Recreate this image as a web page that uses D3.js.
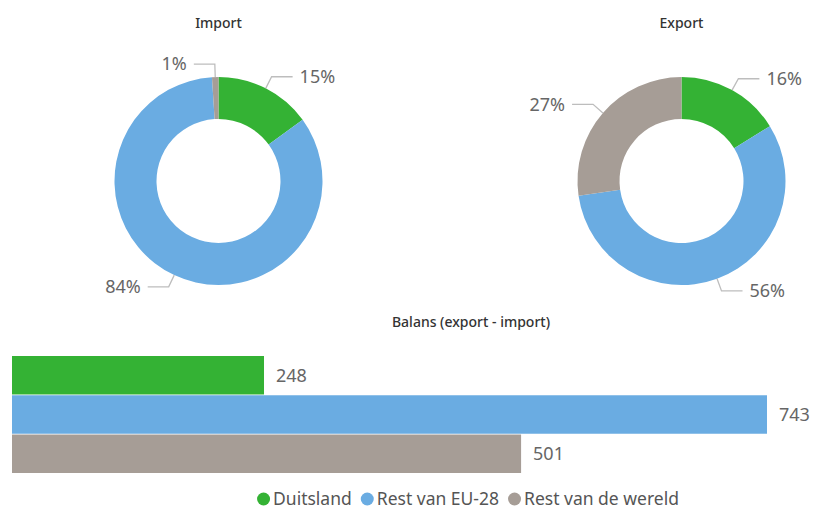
<!DOCTYPE html>
<html>
<head>
<meta charset="utf-8">
<script src="https://cdn.jsdelivr.net/npm/d3@7"></script>
<style>
  body { margin: 0; background: #fff; }
  svg { display: block; font-family: "Noto Sans", "Open Sans", sans-serif; }
</style>
</head>
<body>
<svg id="chart" width="813" height="513"></svg>
<script>
// categories and values
var categories = ['Duitsland', 'Rest van EU-28', 'Rest van de wereld'];
var colors = ['#34b234', '#6aace2', '#a69d96'];
var import_pct = [15, 84, 1];
var export_pct = [16, 56, 27];
var balans = [248, 743, 501];

var svg = d3.select('#chart');
var color = d3.scaleOrdinal().domain(categories).range(colors);

var outer_r = 104, inner_r = 62, elbow_r = 117;

function drawDonut(title, values, cx, cy) {
     var data = categories.map((c, i) => ({ cat: c, value: values[i] }));
     var pie = d3.pie().sort(null).value(d => d.value);
     var arc = d3.arc().innerRadius(inner_r).outerRadius(outer_r);
     var g = svg.append('g')
          .attr('transform', 'translate(' + cx + ',' + cy + ')');

     svg.append('text')
          .attr('x', cx)
          .attr('y', 28)
          .attr('text-anchor', 'middle')
          .style('font-size', '14px')
          .style('font-weight', '500')
          .style('fill', '#333')
          .text(title);

     var arcs = pie(data);
     g.selectAll('path')
          .data(arcs)
          .enter()
          .append('path')
          .attr('d', arc)
          .attr('fill', d => color(d.data.cat));

     arcs.forEach(d => {
          var a = (d.startAngle + d.endAngle) / 2;
          var sx = Math.sin(a), sy = -Math.cos(a);
          var p0 = [outer_r * sx, outer_r * sy];
          var p1 = [elbow_r * sx, elbow_r * sy];
          var dir = sx >= 0 ? 1 : -1;
          var p2 = [p1[0] + dir * 21, p1[1]];
          g.append('polyline')
               .attr('points', [p0, p1, p2].map(p => p.join(',')).join(' '))
               .attr('fill', 'none')
               .attr('stroke', '#bdbdbd')
               .attr('stroke-width', 1.3);
          g.append('text')
               .attr('x', p2[0] + dir * 7)
               .attr('y', p2[1])
               .attr('dy', '0.35em')
               .attr('text-anchor', dir > 0 ? 'start' : 'end')
               .style('font-size', '18px')
               .style('fill', '#666')
               .text(d.data.value + '%');
     });
}

drawDonut('Import', import_pct, 218.5, 181);
drawDonut('Export', export_pct, 681.5, 181);

// balans bar chart
var bar_data = categories.map((c, i) => ({ cat: c, value: balans[i] }));
var x_scale = d3.scaleLinear()
     .domain([0, d3.max(balans)])
     .range([12, 767]);
var y_scale = d3.scaleBand()
     .domain(categories)
     .range([356, 473])
     .paddingInner(0.02);

svg.append('text')
     .attr('x', 471)
     .attr('y', 327)
     .attr('text-anchor', 'middle')
     .style('font-size', '14px')
     .style('font-weight', '500')
     .style('fill', '#333')
     .text('Balans (export - import)');

svg.append('g').selectAll('rect')
     .data(bar_data)
     .enter()
     .append('rect')
     .attr('x', x_scale(0))
     .attr('y', d => y_scale(d.cat))
     .attr('width', d => x_scale(d.value) - x_scale(0))
     .attr('height', y_scale.bandwidth())
     .attr('fill', d => color(d.cat));

svg.append('g').selectAll('text')
     .data(bar_data)
     .enter()
     .append('text')
     .attr('x', d => x_scale(d.value) + 12)
     .attr('y', d => y_scale(d.cat) + y_scale.bandwidth() / 2)
     .attr('dy', '0.35em')
     .style('font-size', '18px')
     .style('fill', '#666')
     .text(d => d.value);

// legend
var legend = svg.append('g');
var lx = 0;
categories.forEach(c => {
     var item = legend.append('g').attr('transform', 'translate(' + lx + ',0)');
     item.append('circle')
          .attr('cx', 6.5)
          .attr('cy', 0)
          .attr('r', 6.5)
          .attr('fill', color(c));
     var t = item.append('text')
          .attr('x', 16)
          .attr('dy', '0.35em')
          .style('font-size', '17.5px')
          .style('fill', '#555')
          .text(c);
     lx += 16 + t.node().getComputedTextLength() + 9;
});
legend.attr('transform', 'translate(' + (468 - (lx - 9) / 2) + ',499)');
</script>
</body>
</html>
